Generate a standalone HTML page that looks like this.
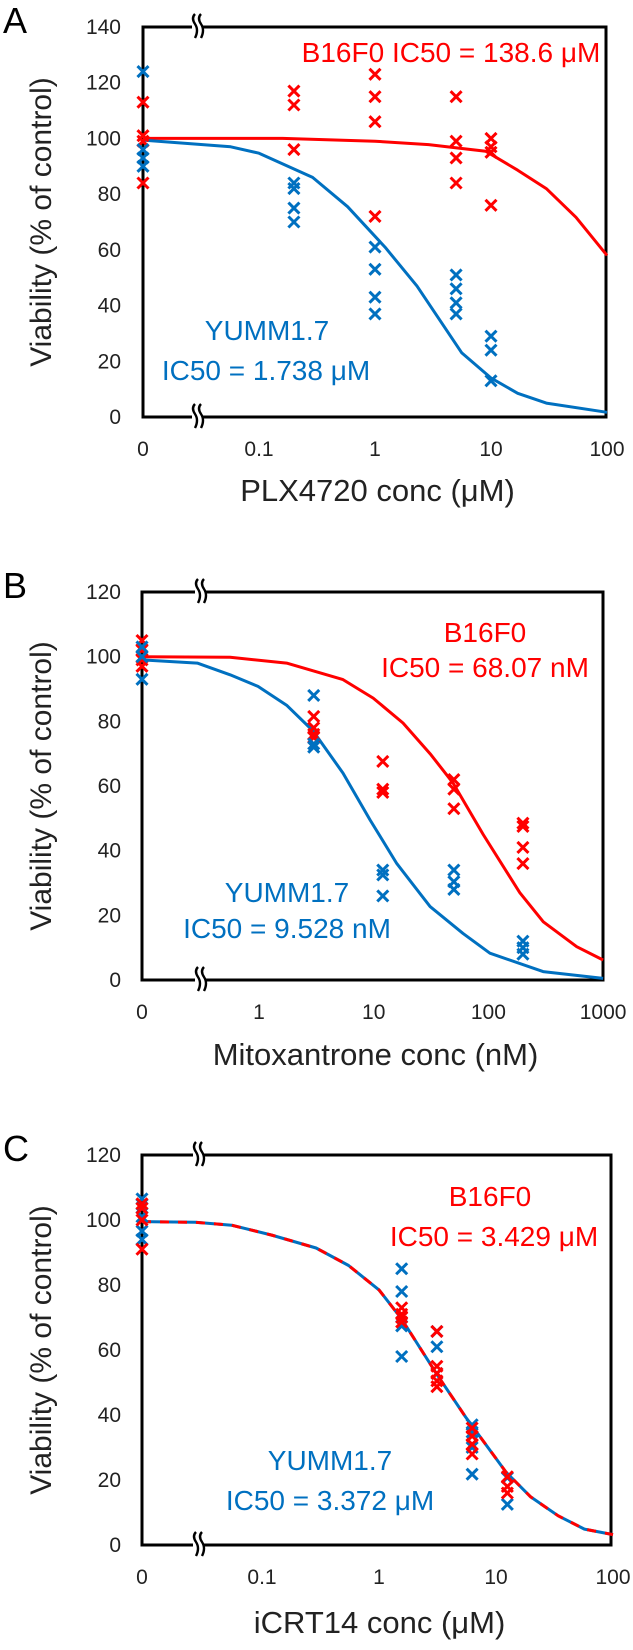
<!DOCTYPE html>
<html><head><meta charset="utf-8"><style>
html,body{margin:0;padding:0;background:#fff;}
svg{display:block;font-family:"Liberation Sans",sans-serif;}
</style></head><body>
<svg id="fig" width="633" height="1650" viewBox="0 0 633 1650" xmlns="http://www.w3.org/2000/svg"></svg>
<script>
// ---------- Panel A data (PLX4720, µM) ----------
const aConc = [0, 0.2, 1, 5, 10];
const aRed = [[113,101,99,84],[117,112,96],[123,115,106,72],[115,99,93,84],[100,97,95,76]];
const aBlue = [[124,96,93,90],[84,82,75,70],[61,53,43,37],[51,46,41,37],[29,24,13]];
const aRedCurveX = [0, 0.16, 1, 2.9, 9, 17, 30, 54, 100];
const aRedCurveY = [100, 100, 99, 97.8, 95.4, 88.6, 82, 71.7, 58];
const aBlueCurveX = [0, 0.057, 0.1, 0.29, 0.58, 1.22, 2.3, 5.6, 10, 17, 30, 100];
const aBlueCurveY = [99.4, 97, 94.7, 86, 75.5, 61, 47, 23, 14, 8.5, 5, 1.7];
const aYTicks = [0,20,40,60,80,100,120,140];
const aXTicks = ["0","0.1","1","10","100"];
// ---------- Panel B data (Mitoxantrone, nM) ----------
const bConc = [0, 3, 12, 50, 200];
const bRed = [[105,102,99,97],[81.5,78,76,75],[67.6,59,58],[62,59,53],[48.5,47.5,41,36]];
const bBlue = [[103,100,93],[88,73,72],[34,32.5,26],[34,30.4,28],[12,10,8]];
const bRedCurveX = [0, 0.56, 1.74, 5.4, 9.9, 18, 31, 49, 90, 188, 301, 589, 1000];
const bRedCurveY = [100, 99.8, 98, 92.9, 87.2, 79.5, 70, 61, 45, 27, 18, 10.3, 6.2];
const bBlueCurveX = [0, 0.29, 0.56, 0.98, 1.74, 2.96, 5.4, 9.3, 15.9, 31, 60, 103, 300, 1000];
const bBlueCurveY = [99, 98, 94.4, 90.8, 85, 77, 64, 49.5, 36, 22.7, 14.4, 8.3, 2.6, 0.5];
const bYTicks = [0,20,40,60,80,100,120];
const bXTicks = ["0","1","10","100","1000"];
// ---------- Panel C data (iCRT14, µM) ----------
const cConc = [0, 1.5625, 3.125, 6.25, 12.5];
const cRed = [[105,103.6,100,91],[73,71,70,68.6],[65.7,55,52.8,50.5,48.7],[36,33.5,31,28],[21,18,16]];
const cBlue = [[106.5,104.8,101,96.6,94],[85,78,67.4,58],[65.7,61,52.8],[37,34.7,30,21.8],[20.7,12.5]];
const cCurveX = [0, 0.027, 0.055, 0.12, 0.29, 0.55, 1, 1.55, 3.16, 5.5, 12.2, 19.8, 34, 57, 100];
const cCurveY = [99.5, 99.3, 98.4, 95.4, 91.4, 86, 78.5, 69.7, 52.2, 39.4, 22.4, 14.8, 9, 4.9, 3.2];
const cYTicks = [0,20,40,60,80,100,120];
const cXTicks = ["0","0.1","1","10","100"];

const NS = "http://www.w3.org/2000/svg";
const svg = document.getElementById('fig');
const RED = "#ff0000", BLUE = "#0070c0";

function mk(tag, attrs, parent){
  const e = document.createElementNS(NS, tag);
  for (const k in attrs) e.setAttribute(k, attrs[k]);
  (parent||svg).appendChild(e);
  return e;
}

function panel(cfg){
  const g = mk('g', {});
  
  
  const L = cfg.left, R = cfg.right, T = cfg.top, B = cfg.bottom;
  const yS = v => B - (v / cfg.ymax) * (B - T);
  const xS = v => v === 0 ? L : cfg.x1 + cfg.dec * Math.log10(v);

  const lt = mk('text', {x: 3, y: T + 6, 'font-size': 36, fill: '#000'}, g);
  lt.textContent = cfg.letter;
  
  

  const box = mk('rect', {x: L, y: T, width: R - L, height: B - T, fill: 'none', stroke: '#000', 'stroke-width': 3}, g);
  
  

  [T, B].forEach((yy, i) => {
    const br = mk('g', {}, g);
    
    
    mk('rect', {x: cfg.brk - 6, y: yy - 3, width: 10, height: 6, fill: '#fff'}, br);
    mk('path', {d: `M${cfg.brk-3},${yy-13} q-4,4 0,10 q4,6 0,14`, fill: 'none', stroke: '#000', 'stroke-width': 2.4}, br);
    mk('path', {d: `M${cfg.brk+3},${yy-13} q-4,4 0,10 q4,6 0,14`, fill: 'none', stroke: '#000', 'stroke-width': 2.4}, br);
  });

  cfg.yTicks.forEach(v => {
    const t = mk('text', {x: 121, y: yS(v) + 7, 'font-size': 21, 'text-anchor': 'end', fill: '#222'}, g);
    t.textContent = v;
    
    
  });
  cfg.xTicks.forEach(s => {
    const v = parseFloat(s);
    const t = mk('text', {x: xS(v), y: B + 39, 'font-size': 21, 'text-anchor': 'middle', fill: '#222'}, g);
    t.textContent = s;
    
    
  });
  const yt = mk('text', {x: 0, y: 0, 'font-size': 30, 'text-anchor': 'middle', fill: '#222',
    transform: `translate(51,${(T+B)/2}) rotate(-90)`}, g);
  yt.textContent = 'Viability (% of control)';
  
  
  const xt = mk('text', {x: (L+R)/2 + 3, y: B + cfg.xtOff, 'font-size': 31, 'text-anchor': 'middle', fill: '#222'}, g);
  xt.textContent = cfg.xTitle;
  
  

  function curve(xs, ys, col, name, dash){
    const d = xs.map((x, i) => (i ? 'L' : 'M') + xS(x).toFixed(1) + ',' + yS(ys[i]).toFixed(1)).join(' ');
    const p = mk('path', {d, fill: 'none', stroke: col, 'stroke-width': 3, 'stroke-linejoin': 'round'}, g);
    if (dash) p.setAttribute('stroke-dasharray', dash);
    
    
  }
  cfg.curves.forEach(c => curve(c.x, c.y, c.col, c.name, c.dash));

  function pts(conc, vals, col, name){
    conc.forEach((c, i) => vals[i].forEach(v => {
      const cx = xS(c), cy = yS(v), r = 5.5;
      const m = mk('path', {d: `M${cx-r},${cy-r} L${cx+r},${cy+r} M${cx-r},${cy+r} L${cx+r},${cy-r}`,
        stroke: col, 'stroke-width': 3, fill: 'none'}, g);
      
      
    }));
  }
  cfg.points.forEach(p => pts(p.conc, p.vals, p.col, p.name));

  cfg.notes.forEach(n => {
    const t = mk('text', {x: n.x, y: n.y + 10, 'font-size': 28, 'text-anchor': 'middle', fill: n.col}, g);
    t.textContent = n.t;
    
    
  });
}

panel({id:'a', letter:'A', left:143, right:606, top:27, bottom:417, ymax:140, x1:375, dec:116, brk:198,
  yTicks:aYTicks, xTicks:aXTicks, xTitle:'PLX4720 conc (\u03bcM)', xtOff:84,
  curves:[{x:aRedCurveX,y:aRedCurveY,col:RED,name:'b16f0-fit-curve'},{x:aBlueCurveX,y:aBlueCurveY,col:BLUE,name:'yumm-fit-curve'}],
  points:[{conc:aConc,vals:aRed,col:RED,name:'b16f0-point'},{conc:aConc,vals:aBlue,col:BLUE,name:'yumm-point'}],
  notes:[{x:451,y:52,t:'B16F0 IC50 = 138.6 \u03bcM',col:RED,name:'b16f0-ic50-label'},
         {x:267,y:330,t:'YUMM1.7',col:BLUE,name:'yumm-label'},
         {x:266,y:370,t:'IC50 = 1.738 \u03bcM',col:BLUE,name:'yumm-ic50-label'}]});

panel({id:'b', letter:'B', left:142, right:603, top:592, bottom:980, ymax:120, x1:259, dec:114.7, brk:201,
  yTicks:bYTicks, xTicks:bXTicks, xTitle:'Mitoxantrone conc (nM)', xtOff:85,
  curves:[{x:bRedCurveX,y:bRedCurveY,col:RED,name:'b16f0-fit-curve'},{x:bBlueCurveX,y:bBlueCurveY,col:BLUE,name:'yumm-fit-curve'}],
  points:[{conc:bConc,vals:bRed,col:RED,name:'b16f0-point'},{conc:bConc,vals:bBlue,col:BLUE,name:'yumm-point'}],
  notes:[{x:485,y:632,t:'B16F0',col:RED,name:'b16f0-label'},
         {x:485,y:667,t:'IC50 = 68.07 nM',col:RED,name:'b16f0-ic50-label'},
         {x:287,y:892,t:'YUMM1.7',col:BLUE,name:'yumm-label'},
         {x:287,y:928,t:'IC50 = 9.528 nM',col:BLUE,name:'yumm-ic50-label'}]});

panel({id:'c', letter:'C', left:142, right:611, top:1155, bottom:1545, ymax:120, x1:379, dec:117, brk:199,
  yTicks:cYTicks, xTicks:cXTicks, xTitle:'iCRT14 conc (\u03bcM)', xtOff:88,
  curves:[{x:cCurveX,y:cCurveY,col:BLUE,name:'yumm-fit-curve'},{x:cCurveX,y:cCurveY,col:RED,name:'b16f0-fit-curve',dash:'9,9'}],
  points:[{conc:cConc,vals:cBlue,col:BLUE,name:'yumm-point'},{conc:cConc,vals:cRed,col:RED,name:'b16f0-point'}],
  notes:[{x:490,y:1196,t:'B16F0',col:RED,name:'b16f0-label'},
         {x:494,y:1236,t:'IC50 = 3.429 \u03bcM',col:RED,name:'b16f0-ic50-label'},
         {x:330,y:1460,t:'YUMM1.7',col:BLUE,name:'yumm-label'},
         {x:330,y:1500,t:'IC50 = 3.372 \u03bcM',col:BLUE,name:'yumm-ic50-label'}]});
</script>
</body></html>
